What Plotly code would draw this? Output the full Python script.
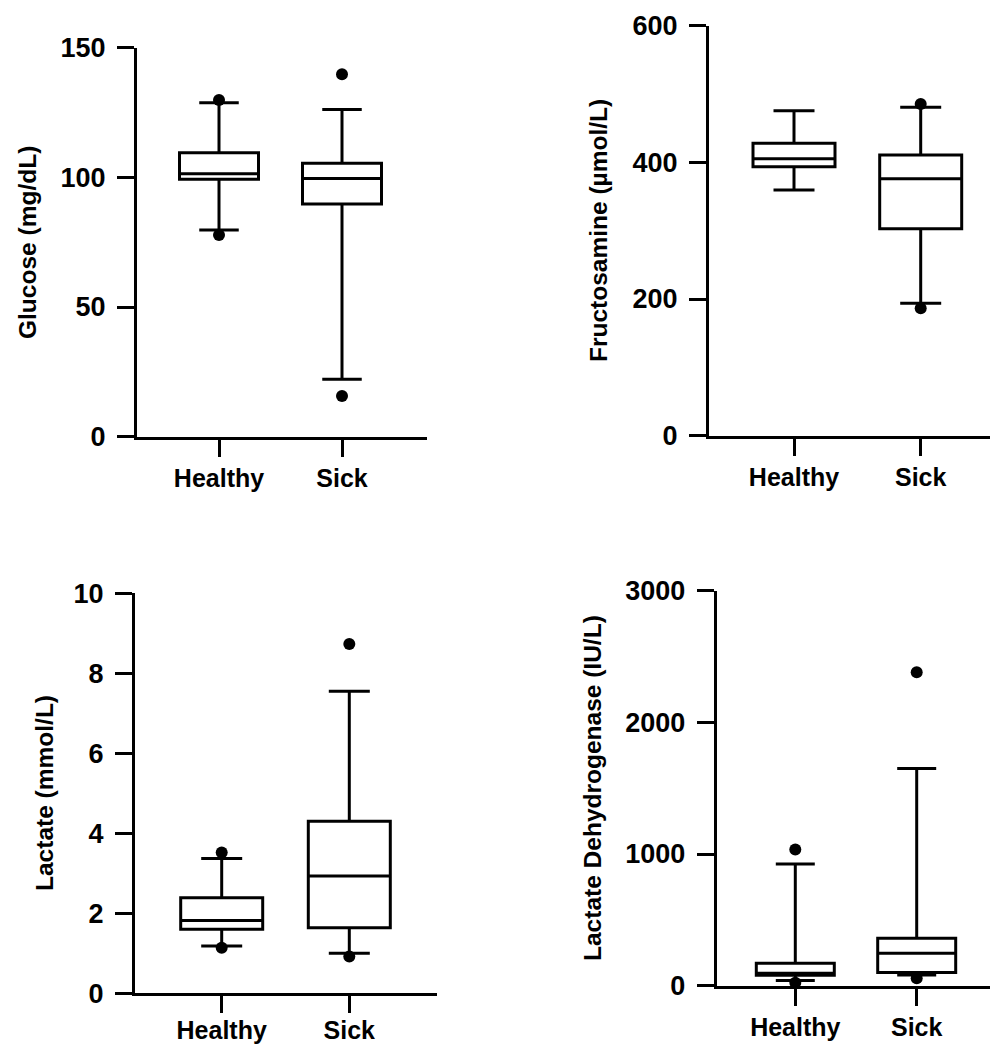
import plotly.graph_objects as go

# ---------------- data ----------------
groups = ["Healthy", "Sick"]

titles = ["Glucose (mg/dL)", "Fructosamine (µmol/L)", "Lactate (mmol/L)",
          "Lactate Dehydrogenase (IU/L)"]

# [Healthy, Sick] for each statistic
glucose_low = [79.7, 22.2]
glucose_q1 = [99.3, 89.7]
glucose_med = [101.4, 99.6]
glucose_q3 = [109.5, 105.4]
glucose_high = [128.8, 126.2]
glucose_out = [[129.8, 77.8], [139.8, 15.7]]

fructo_low = [359.6, 193.8]
fructo_q1 = [393.7, 303.0]
fructo_med = [405.4, 376.1]
fructo_q3 = [428.0, 410.8]
fructo_high = [475.6, 480.6]
fructo_out = [[], [485.4, 186.4]]

lactate_low = [1.18, 1.00]
lactate_q1 = [1.60, 1.64]
lactate_med = [1.82, 2.93]
lactate_q3 = [2.39, 4.30]
lactate_high = [3.37, 7.55]
lactate_out = [[3.52, 1.14], [8.73, 0.92]]

ldh_low = [40, 81]
ldh_q1 = [80, 101]
ldh_med = [95, 246]
ldh_q3 = [170, 360]
ldh_high = [924, 1650]
ldh_out = [[1035, 22], [2380, 56]]

y_max = [150, 600, 10, 3000]
y_dtick = [50, 200, 2, 1000]

# ---------------- layout geometry (page pixels) ----------------
PAGE_W, PAGE_H = 998, 1047
OFF = 8  # default body margin of the html page
W, H = PAGE_W - OFF, PAGE_H - OFF


def px_x(p):
    return (p - OFF) / W


def px_y(p):
    return 1 - (p - OFF) / H


# (yaxis_x, x_end, y0_px, ymax_px, healthy_px, sick_px, box_px, xlabel_standoff)
geo = [
    (137, 427, 436.7, 47.7, 219, 342, 79, 0),
    (709, 998, 435.7, 25.7, 794, 920.7, 82, 0),
    (135, 437, 993.3, 593.3, 221.7, 349.3, 82, -4),
    (716.7, 998, 985.7, 590.7, 795.3, 916.7, 78, 0),
]
title_pos = [(28, 243), (598, 231), (44, 793), (592, 788)]

stats = [
    (glucose_low, glucose_q1, glucose_med, glucose_q3, glucose_high, glucose_out),
    (fructo_low, fructo_q1, fructo_med, fructo_q3, fructo_high, fructo_out),
    (lactate_low, lactate_q1, lactate_med, lactate_q3, lactate_high, lactate_out),
    (ldh_low, ldh_q1, ldh_med, ldh_q3, ldh_high, ldh_out),
]

fig = go.Figure()
FAM = "Liberation Sans, Arial, sans-serif"
TICKFONT = dict(family=FAM, size=27, color="black", weight="bold")
XTICKFONT = dict(family=FAM, size=25, color="black", weight="bold")
TITLEFONT = dict(family=FAM, size=24.5, color="black", weight="bold")

layout_axes = {}
for i, (g, st) in enumerate(zip(geo, stats)):
    yx, xend, y0p, ymp, hp, sp, bp, xso = g
    low, q1, med, q3, high, outs = st
    n = "" if i == 0 else str(i + 1)
    xa, ya = "x" + n, "y" + n
    spacing = sp - hp
    xr = [-(hp - yx) / spacing, 1 + (xend - sp) / spacing]
    bw = bp / spacing
    for j in range(2):
        fig.add_trace(go.Box(
            x=[j], q1=[q1[j]], median=[med[j]], q3=[q3[j]],
            lowerfence=[low[j]], upperfence=[high[j]],
            width=bw, whiskerwidth=0.5,
            fillcolor="white", line=dict(color="black", width=3),
            boxpoints=False, xaxis=xa, yaxis=ya, showlegend=False,
        ))
        if outs[j]:
            fig.add_trace(go.Scatter(
                x=[j] * len(outs[j]), y=outs[j], mode="markers",
                marker=dict(color="black", size=12),
                xaxis=xa, yaxis=ya, showlegend=False, cliponaxis=False,
            ))
    layout_axes["xaxis" + n] = dict(
        domain=[px_x(yx), min(px_x(xend), 1.0)], range=xr, anchor=ya,
        tickvals=[0, 1], ticktext=groups, showline=True, linecolor="black",
        linewidth=3, ticks="outside", ticklen=17, tickwidth=3, tickcolor="black",
        showgrid=False, zeroline=False, tickfont=XTICKFONT, ticklabelstandoff=xso,
        automargin=False,
    )
    layout_axes["yaxis" + n] = dict(
        domain=[px_y(y0p), px_y(ymp)], range=[0, y_max[i]], anchor=xa,
        tickmode="linear", tick0=0, dtick=y_dtick[i], showline=True,
        linecolor="black", linewidth=3, ticks="outside", ticklen=17,
        tickwidth=2.5, tickcolor="black", showgrid=False, zeroline=False,
        tickfont=TICKFONT, ticklabelstandoff=6, automargin=False,
    )

annotations = []
for t, (tx, ty) in zip(titles, title_pos):
    annotations.append(dict(
        text=t, x=px_x(tx), y=px_y(ty), xref="paper", yref="paper",
        textangle=-90, showarrow=False, xanchor="center", yanchor="middle",
        font=TITLEFONT,
    ))

fig.update_layout(
    width=W, height=H, margin=dict(l=0, r=0, t=0, b=0, autoexpand=False),
    paper_bgcolor="white", plot_bgcolor="white", showlegend=False,
    annotations=annotations, **layout_axes,
)

fig.write_html("out.html")
